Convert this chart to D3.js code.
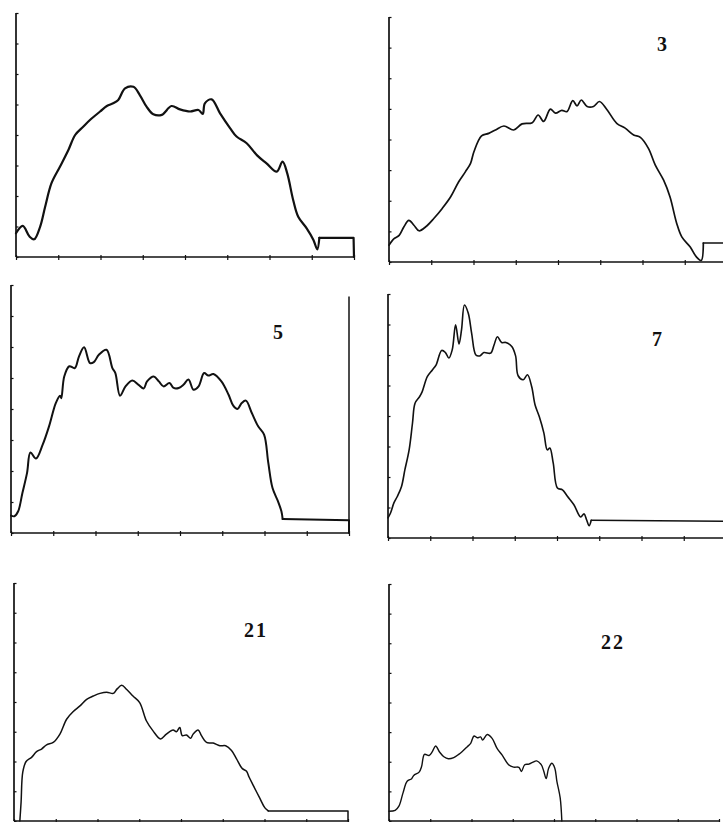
<!DOCTYPE html>
<html>
<head>
<meta charset="utf-8">
<script src="https://cdn.jsdelivr.net/npm/d3@7"></script>
<style>
  body { margin: 0; background: #fff; }
  svg { display: block; }
  .axis path, .axis line { stroke: #111; }
  .label { font-family: "Liberation Serif", serif; font-weight: bold; font-size: 20px; fill: #111; }
</style>
</head>
<body>
<svg></svg>
<script>
// profile curves, x and y both on a 0..8 grid (one tick per unit)
const curve1 = [[0,0.78],[0.16,1.02],[0.32,0.67],[0.43,0.58],[0.57,0.99],[0.69,1.65],[0.84,2.42],[1.04,2.96],[1.24,3.51],[1.40,4.0],[1.59,4.27],[1.75,4.49],[1.99,4.77],[2.15,4.95],[2.30,5.04],[2.42,5.15],[2.58,5.53],[2.78,5.58],[2.93,5.31],[3.09,4.93],[3.25,4.68],[3.45,4.66],[3.68,4.95],[3.88,4.84],[4.12,4.77],[4.32,4.82],[4.42,4.69],[4.47,5.04],[4.63,5.17],[4.83,4.71],[5.07,4.22],[5.22,3.95],[5.46,3.73],[5.70,3.34],[5.93,3.07],[6.17,2.80],[6.31,3.13],[6.42,2.74],[6.56,1.87],[6.68,1.32],[6.88,0.94],[7.04,0.56],[7.13,0.25],[7.18,0.63],[7.99,0.63],[8,0]];
const curve3 = [[0,0.55],[0.12,0.76],[0.24,0.87],[0.35,1.14],[0.47,1.36],[0.59,1.20],[0.71,1.02],[0.87,1.15],[1.06,1.42],[1.26,1.75],[1.46,2.13],[1.65,2.62],[1.81,2.95],[1.93,3.22],[2.01,3.60],[2.19,4.12],[2.36,4.20],[2.52,4.31],[2.72,4.44],[2.95,4.31],[3.15,4.51],[3.39,4.55],[3.53,4.80],[3.66,4.59],[3.82,4.99],[3.94,4.86],[4.09,4.95],[4.21,4.91],[4.35,5.27],[4.45,5.10],[4.55,5.29],[4.69,5.08],[4.84,5.08],[4.98,5.24],[5.16,4.97],[5.39,4.53],[5.59,4.37],[5.79,4.15],[5.95,4.07],[6.14,3.71],[6.30,3.17],[6.50,2.67],[6.65,2.13],[6.81,1.26],[6.93,0.82],[7.13,0.49],[7.28,0.16],[7.39,0.05],[7.44,0.62],[8,0.62],[8,0]];
const curve5 = [[0,0.56],[0.08,0.54],[0.17,0.70],[0.27,1.29],[0.38,1.94],[0.46,2.60],[0.59,2.40],[0.75,2.85],[0.90,3.44],[1.06,4.19],[1.16,4.43],[1.19,4.35],[1.26,5.05],[1.38,5.38],[1.51,5.32],[1.61,5.70],[1.73,5.99],[1.87,5.48],[1.96,5.51],[2.08,5.75],[2.26,5.91],[2.40,5.32],[2.47,5.16],[2.58,4.43],[2.71,4.73],[2.87,4.92],[3.02,4.78],[3.14,4.66],[3.22,4.89],[3.38,5.05],[3.50,4.89],[3.61,4.73],[3.75,4.84],[3.85,4.68],[3.97,4.68],[4.08,4.78],[4.20,4.95],[4.32,4.62],[4.44,4.73],[4.57,5.16],[4.67,5.08],[4.79,5.13],[4.98,4.89],[5.15,4.46],[5.26,4.11],[5.36,4.00],[5.46,4.19],[5.56,4.27],[5.70,3.87],[5.85,3.44],[5.99,3.17],[6.09,2.26],[6.19,1.45],[6.32,1.02],[6.40,0.70],[6.43,0.45],[8,0.41],[8,0]];
const curve7 = [[0,0.66],[0.06,0.82],[0.14,1.15],[0.22,1.36],[0.32,1.69],[0.40,2.24],[0.50,2.89],[0.58,3.77],[0.64,4.42],[0.75,4.64],[0.81,4.80],[0.93,5.29],[1.05,5.51],[1.14,5.68],[1.27,6.15],[1.36,6.08],[1.44,5.90],[1.52,6.17],[1.60,6.99],[1.68,6.36],[1.74,6.82],[1.81,7.64],[1.90,7.37],[1.98,6.71],[2.08,6.00],[2.17,5.97],[2.27,6.08],[2.43,6.06],[2.51,6.33],[2.59,6.60],[2.69,6.41],[2.79,6.41],[2.93,6.28],[3.02,5.97],[3.08,5.32],[3.20,5.19],[3.30,5.35],[3.40,4.97],[3.48,4.37],[3.58,3.98],[3.69,3.44],[3.77,2.89],[3.83,2.95],[3.91,2.46],[4.01,1.64],[4.13,1.58],[4.25,1.36],[4.40,1.09],[4.56,0.69],[4.64,0.79],[4.70,0.60],[4.76,0.40],[4.81,0.58],[8,0.55]];
const curve21 = [[0.14,0],[0.17,0.64],[0.21,1.64],[0.29,2.0],[0.42,2.14],[0.54,2.33],[0.66,2.42],[0.78,2.56],[0.94,2.64],[1.10,2.92],[1.26,3.42],[1.42,3.68],[1.58,3.87],[1.74,4.09],[1.90,4.20],[2.06,4.29],[2.22,4.33],[2.38,4.29],[2.47,4.44],[2.58,4.56],[2.70,4.42],[2.85,4.20],[3.01,3.98],[3.17,3.37],[3.33,3.03],[3.51,2.76],[3.65,2.92],[3.81,3.06],[3.89,3.0],[3.97,3.14],[4.03,2.87],[4.13,2.89],[4.23,2.78],[4.29,2.92],[4.41,3.06],[4.49,2.87],[4.61,2.64],[4.77,2.62],[4.93,2.53],[5.07,2.53],[5.21,2.37],[5.33,2.09],[5.47,1.76],[5.57,1.67],[5.63,1.48],[5.73,1.20],[5.89,0.76],[6.01,0.44],[6.09,0.34],[8,0.34],[8,0]];
const curve22 = [[0,0.33],[0.15,0.36],[0.24,0.50],[0.34,0.95],[0.44,1.34],[0.55,1.43],[0.60,1.54],[0.73,1.65],[0.79,1.84],[0.86,2.25],[0.97,2.21],[1.05,2.34],[1.13,2.53],[1.23,2.32],[1.33,2.17],[1.44,2.10],[1.57,2.14],[1.69,2.25],[1.77,2.34],[1.90,2.51],[1.98,2.62],[2.06,2.87],[2.14,2.81],[2.22,2.84],[2.27,2.73],[2.38,2.92],[2.50,2.79],[2.62,2.45],[2.74,2.23],[2.90,1.90],[3.02,1.82],[3.15,1.81],[3.21,1.67],[3.29,1.90],[3.39,1.92],[3.48,1.98],[3.58,2.03],[3.69,1.90],[3.75,1.69],[3.81,1.43],[3.87,1.78],[3.95,1.95],[4.02,1.78],[4.07,1.34],[4.15,0.78],[4.19,0.0]];

const labels = ['', '3', '5', '7', '21', '22'];
const ticks = d3.range(0, 9);

// where each panel sits on the page
const panels = [
  {data: curve1,  x0: 16,  x1: 354, yb: 257, yt: 13,  w: 2.2, lx: 0,   ly: 0},
  {data: curve3,  x0: 389, x1: 727, yb: 262, yt: 17,  w: 1.7, lx: 662, ly: 51},
  {data: curve5,  x0: 11,  x1: 349, yb: 533, yt: 285, w: 2.0, lx: 278, ly: 339, right: 7.63},
  {data: curve7,  x0: 388, x1: 726, yb: 538, yt: 294, w: 1.6, lx: 657, ly: 346},
  {data: curve21, x0: 14,  x1: 348, yb: 821, yt: 583, w: 1.5, lx: 256, ly: 637},
  {data: curve22, x0: 389, x1: 719, yb: 821, yt: 584, w: 1.4, lx: 613, ly: 649}
];

const svg = d3.select('svg')
    .attr('width', 723)
    .attr('height', 822);

panels.forEach(function(p, i) {
    const x = d3.scaleLinear().domain([0, 8]).range([p.x0, p.x1]);
    const y = d3.scaleLinear().domain([0, 8]).range([p.yb, p.yt]);
    const g = svg.append('g');

    const axisX = g.append('g')
        .classed('axis', true)
        .attr('transform', `translate(0, ${p.yb})`)
        .call(d3.axisBottom(x).tickValues(ticks).tickSize(3).tickFormat(''));
    axisX.selectAll('line').attr('y1', -2).attr('stroke-width', 1.2);
    axisX.select('.domain').attr('stroke-width', 1.5).attr('d', `M${p.x0},0H${p.x1}`);

    const axisY = g.append('g')
        .classed('axis', true)
        .attr('transform', `translate(${p.x0}, 0)`)
        .call(d3.axisLeft(y).tickValues(ticks).tickSize(2.5).tickFormat(''));
    axisY.selectAll('line').attr('x2', 2.5).attr('stroke-width', 1.2);
    axisY.select('.domain').attr('stroke-width', 1.7).attr('d', `M0,${p.yt}V${p.yb}`);

    if (p.right) {
        g.append('line')
            .attr('x1', x(8)).attr('x2', x(8))
            .attr('y1', y(0)).attr('y2', y(p.right))
            .attr('stroke', '#111').attr('stroke-width', 1.5);
    }

    // smooth the noisy profile, keep the flat tail straight
    let cut = p.data.length - 1;
    for (let k = 0; k < p.data.length - 1; k++) {
        if (p.data[k + 1][0] - p.data[k][0] > 0.5) { cut = k; break; }
    }
    const smooth = d3.line()
        .x(d => x(d[0]))
        .y(d => y(d[1]))
        .curve(d3.curveCatmullRom.alpha(0.5));
    const straight = d3.line()
        .x(d => x(d[0]))
        .y(d => y(d[1]));

    [[p.data.slice(0, cut + 1), smooth], [p.data.slice(cut), straight]].forEach(function(part) {
        if (part[0].length < 2) return;
        g.append('path')
            .datum(part[0])
            .attr('d', part[1])
            .attr('fill', 'none')
            .attr('stroke', '#111')
            .attr('stroke-width', p.w)
            .attr('stroke-linejoin', 'round')
            .attr('stroke-linecap', 'round');
    });

    if (labels[i]) {
        g.append('text')
            .classed('label', true)
            .attr('x', p.lx)
            .attr('y', p.ly)
            .attr('text-anchor', 'middle')
            .attr('letter-spacing', labels[i].length > 1 ? 2 : 0)
            .text(labels[i]);
    }
});
</script>
</body>
</html>
